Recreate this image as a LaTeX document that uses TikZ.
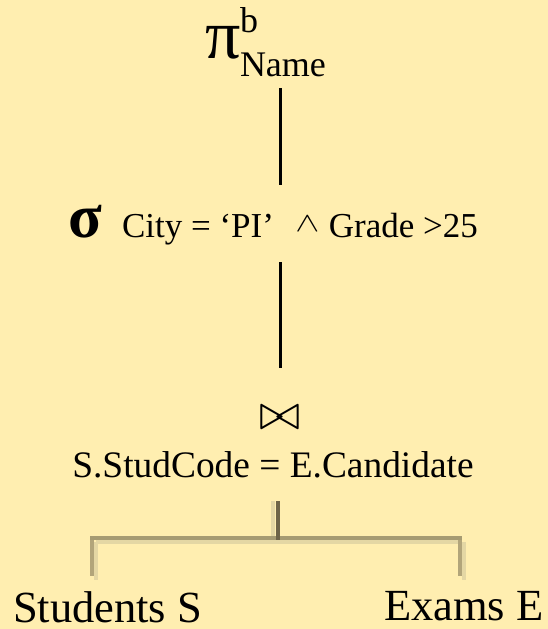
\documentclass[tikz,border=0pt]{standalone}
\usepackage{fontspec}
\usepackage{graphicx}
\setmainfont{Liberation Serif}
\definecolor{paper}{HTML}{FFEEB0}
\definecolor{barmid}{HTML}{A69B72}
\definecolor{barside}{HTML}{B2A57A}
\definecolor{bardark}{HTML}{6E6448}
\definecolor{barglow}{HTML}{E4D7A4}
\tikzset{
  opnode/.style={inner sep=0pt, outer sep=0pt},
  edge/.style={line width=3pt, black},
  glow/.style={line width=4pt, barglow},
  sidebar/.style={line width=4pt, barside},
  crossbar/.style={line width=4pt, barmid},
  stembar/.style={line width=4pt, bardark},
}
\begin{document}
\begin{tikzpicture}[x=1pt, y=1pt]
\fill[paper] (0,0) rectangle (548,-629);
\useasboundingbox (0,0) rectangle (548,-629);

% projection
\node[opnode, anchor=base west] (proj) at (205,-58)
  {\makebox[35pt][l]{\fontsize{70}{70}\selectfont π}\rlap{\raisebox{26pt}{\fontsize{36}{36}\selectfont b}}\raisebox{-18pt}{\fontsize{36}{36}\selectfont Name}};

% selection
\node[opnode, anchor=base west] (sel) at (68,-237)
  {\fontsize{35}{35}\selectfont\makebox[54pt][l]{\fontsize{62}{62}\selectfont\bfseries σ}City = ‘PI’\hspace{27pt}\makebox[13pt]{\raisebox{6pt}{\scalebox{1.45}[1.1]{$\wedge$}}}\hspace{15pt}Grade >25};

% join
\node[opnode] (bt) at (280,-418) {\scalebox{5}{$\bowtie$}};
\node[opnode, anchor=base] (cond) at (273,-477)
  {\fontsize{37.4}{37.4}\selectfont S.StudCode = E.Candidate};

% relations
\node[opnode, anchor=base west] (stu) at (13,-622) {\fontsize{44.5}{44.5}\selectfont Students S};
\node[opnode, anchor=base west] (exa) at (384,-620) {\fontsize{44.5}{44.5}\selectfont Exams E};

% tree edges
\draw[edge] ([yshift=-30pt]proj.base -| bt.center) -- ([yshift=52pt]sel.base -| bt.center);
\draw[edge] ([yshift=-25pt]sel.base -| bt.center) -- ([yshift=50pt]bt.center);

% fork below the join
\coordinate (stemtop) at ([xshift=5pt, yshift=-24pt]cond.base);
\coordinate (fork)    at ([xshift=5pt, yshift=-61pt]cond.base);
\coordinate (lfoot) at (92,-576);
\coordinate (rfoot) at (460,-576);

\draw[glow] ([xshift=-5pt]stemtop) -- ([xshift=-5pt]fork);
\draw[glow] ([xshift=4pt, yshift=-4pt]lfoot |- fork) -- ([yshift=-4pt]rfoot |- fork);
\draw[glow] ([xshift=4pt, yshift=-4pt]lfoot |- fork) -- ([xshift=4pt, yshift=-4pt]lfoot);
\draw[glow] ([xshift=4pt, yshift=-4pt]rfoot |- fork) -- ([xshift=4pt, yshift=-4pt]rfoot);

\draw[sidebar] ([yshift=2pt]lfoot |- fork) -- (lfoot);
\draw[sidebar] ([yshift=2pt]rfoot |- fork) -- (rfoot);
\draw[crossbar] ([xshift=-2pt]lfoot |- fork) -- ([xshift=2pt]rfoot |- fork);
\draw[stembar] (stemtop) -- ([yshift=-2pt]fork);
\end{tikzpicture}
\end{document}
